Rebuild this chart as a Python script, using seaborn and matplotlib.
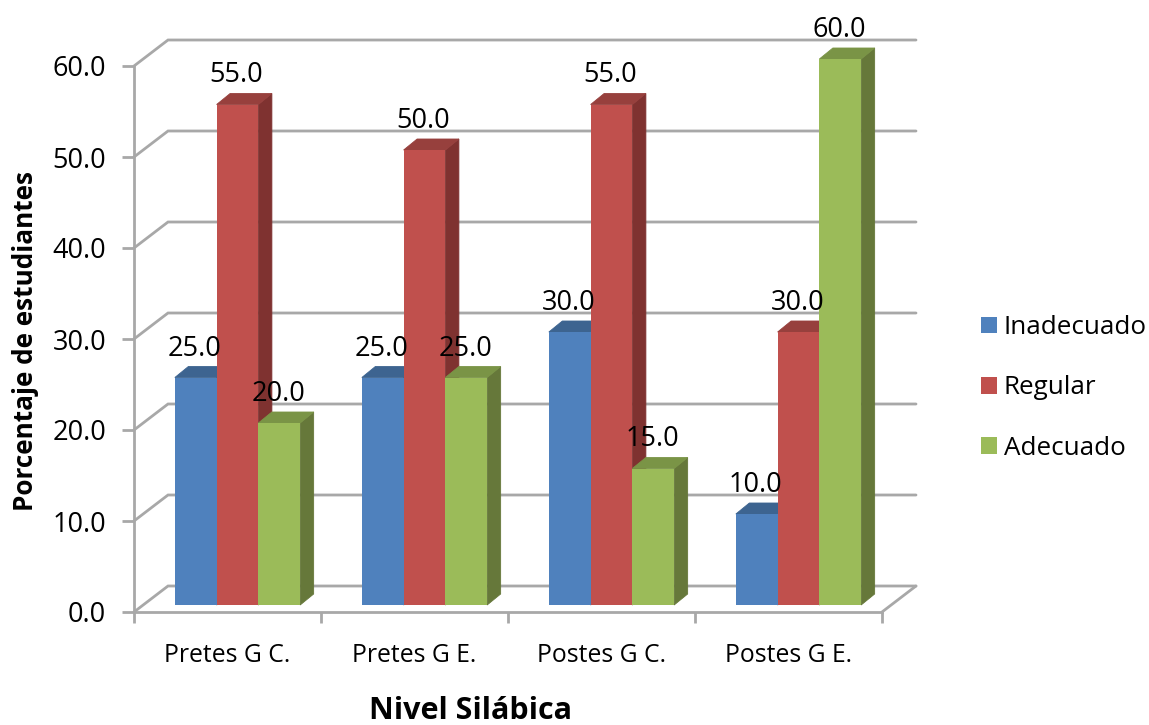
import pandas as pd
import matplotlib
matplotlib.use("Agg")
import matplotlib.pyplot as plt
from matplotlib.patches import Polygon
from matplotlib.transforms import Affine2D
import seaborn as sns

# Data
grupos = ["Pretes G C.", "Pretes G E.", "Postes G C.", "Postes G E."]
inadecuado = [25.0, 25.0, 30.0, 10.0]
regular = [55.0, 50.0, 55.0, 30.0]
adecuado = [20.0, 25.0, 15.0, 60.0]
niveles = ["Inadecuado", "Regular", "Adecuado"]
y_ticks = [0, 10, 20, 30, 40, 50, 60]

# Colours: front, top, side
front = ["#4F81BD", "#C0504D", "#9BBB59"]
top = ["#3D6490", "#97403D", "#7A9446"]
side = ["#3A5A82", "#7F3230", "#66783A"]
GRID = "#A8A8A8"

df = pd.DataFrame({
    "grupo": grupos * 3,
    "nivel": [n for n in niveles for _ in grupos],
    "valor": inadecuado + regular + adecuado,
})

sns.set_theme(style="white")
plt.rcParams["font.family"] = ["Open Sans", "DejaVu Sans"]

W, H = 1149, 725
fig = plt.figure(figsize=(W / 100, H / 100), dpi=100)
ax = fig.add_axes([134 / W, 1 - 612 / H, 748 / W, 546 / H])

sns.barplot(data=df, x="grupo", y="valor", hue="nivel", order=grupos,
            hue_order=niveles, palette=front, saturation=1,
            width=0.67, gap=0, ax=ax)
ax.set_xlim(-0.5, 3.5)
ax.set_ylim(0, 60)

# Depth of the fake 3D wall and of the bars, in data units
wall_dx, wall_dy = 34 / 187, 26 / 9.1
bar_dx, bar_dy = 13.5 / 187, 11 / 9.1

# Back wall gridlines
for v in y_ticks:
    ax.plot([-0.5, -0.5 + wall_dx, 3.5 + wall_dx], [v, v + wall_dy, v + wall_dy],
            color=GRID, lw=2, clip_on=False, zorder=1, solid_joinstyle="miter")
ax.plot([3.5, 3.5 + wall_dx], [0, wall_dy], color=GRID, lw=2, clip_on=False, zorder=1)

# Bars sit a little inside the floor
shift = ax.transData + Affine2D().translate(10, 7)
for i, cont in enumerate(ax.containers):
    z = 3 + i
    for bar in cont:
        x0, x1 = bar.get_x(), bar.get_x() + bar.get_width()
        h = bar.get_height()
        bar.set_transform(shift)
        bar.set_clip_on(False)
        bar.set_zorder(z + 0.1)
        bar.set_linewidth(0)
        ax.add_patch(Polygon([(x1, 0), (x1 + bar_dx, bar_dy), (x1 + bar_dx, h + bar_dy), (x1, h)],
                             facecolor=side[i], edgecolor=side[i], lw=0.6,
                             transform=shift, clip_on=False, zorder=z))
        ax.add_patch(Polygon([(x0, h), (x0 + bar_dx, h + bar_dy), (x1 + bar_dx, h + bar_dy), (x1, h)],
                             facecolor=top[i], edgecolor=top[i], lw=0.6,
                             transform=shift, clip_on=False, zorder=z))
        ax.annotate(f"{h:.1f}", xy=((x0 + x1) / 2, h), xytext=(9, 36),
                    textcoords="offset pixels", ha="center", va="center",
                    fontsize=19.5, color="black", zorder=10, annotation_clip=False)

# Axes
sns.despine(ax=ax)
for s in ["left", "bottom"]:
    ax.spines[s].set_color(GRID)
    ax.spines[s].set_linewidth(2)
ax.set_yticks(y_ticks, [f"{v:.1f}" for v in y_ticks])
ax.set_xticks([-0.5, 0.5, 1.5, 2.5, 3.5], [""] * 5)
ax.set_xticks(range(4), grupos, minor=True)
ax.tick_params(axis="y", left=True, length=9, width=2, color=GRID, pad=11,
               labelsize=19.5, labelcolor="black")
ax.tick_params(axis="x", which="major", bottom=True, length=8, width=2, color=GRID)
ax.tick_params(axis="x", which="minor", bottom=False, length=0, pad=22.5,
               labelsize=17.8, labelcolor="black")

ax.set_xlabel("")
ax.set_ylabel("")
fig.text(470 / W, 1 - 711 / H, "Nivel Silábica", ha="center", va="center",
         fontsize=22, fontweight="bold", color="black")
fig.text(26 / W, 1 - 341 / H, "Porcentaje de estudiantes", rotation=90, ha="center",
         va="center", fontsize=18.8, fontweight="bold", color="black")

# Legend
handles = [c[0] for c in ax.containers]
ax.legend(handles, niveles, loc="center left", bbox_to_anchor=(981 / W, 1 - 388 / H),
          bbox_transform=fig.transFigure, frameon=False, fontsize=18.7, labelcolor="black",
          handlelength=0.62, handleheight=0.62, handletextpad=0.25, labelspacing=1.36,
          borderpad=0, borderaxespad=0)

fig.savefig("out.png", dpi=100)
